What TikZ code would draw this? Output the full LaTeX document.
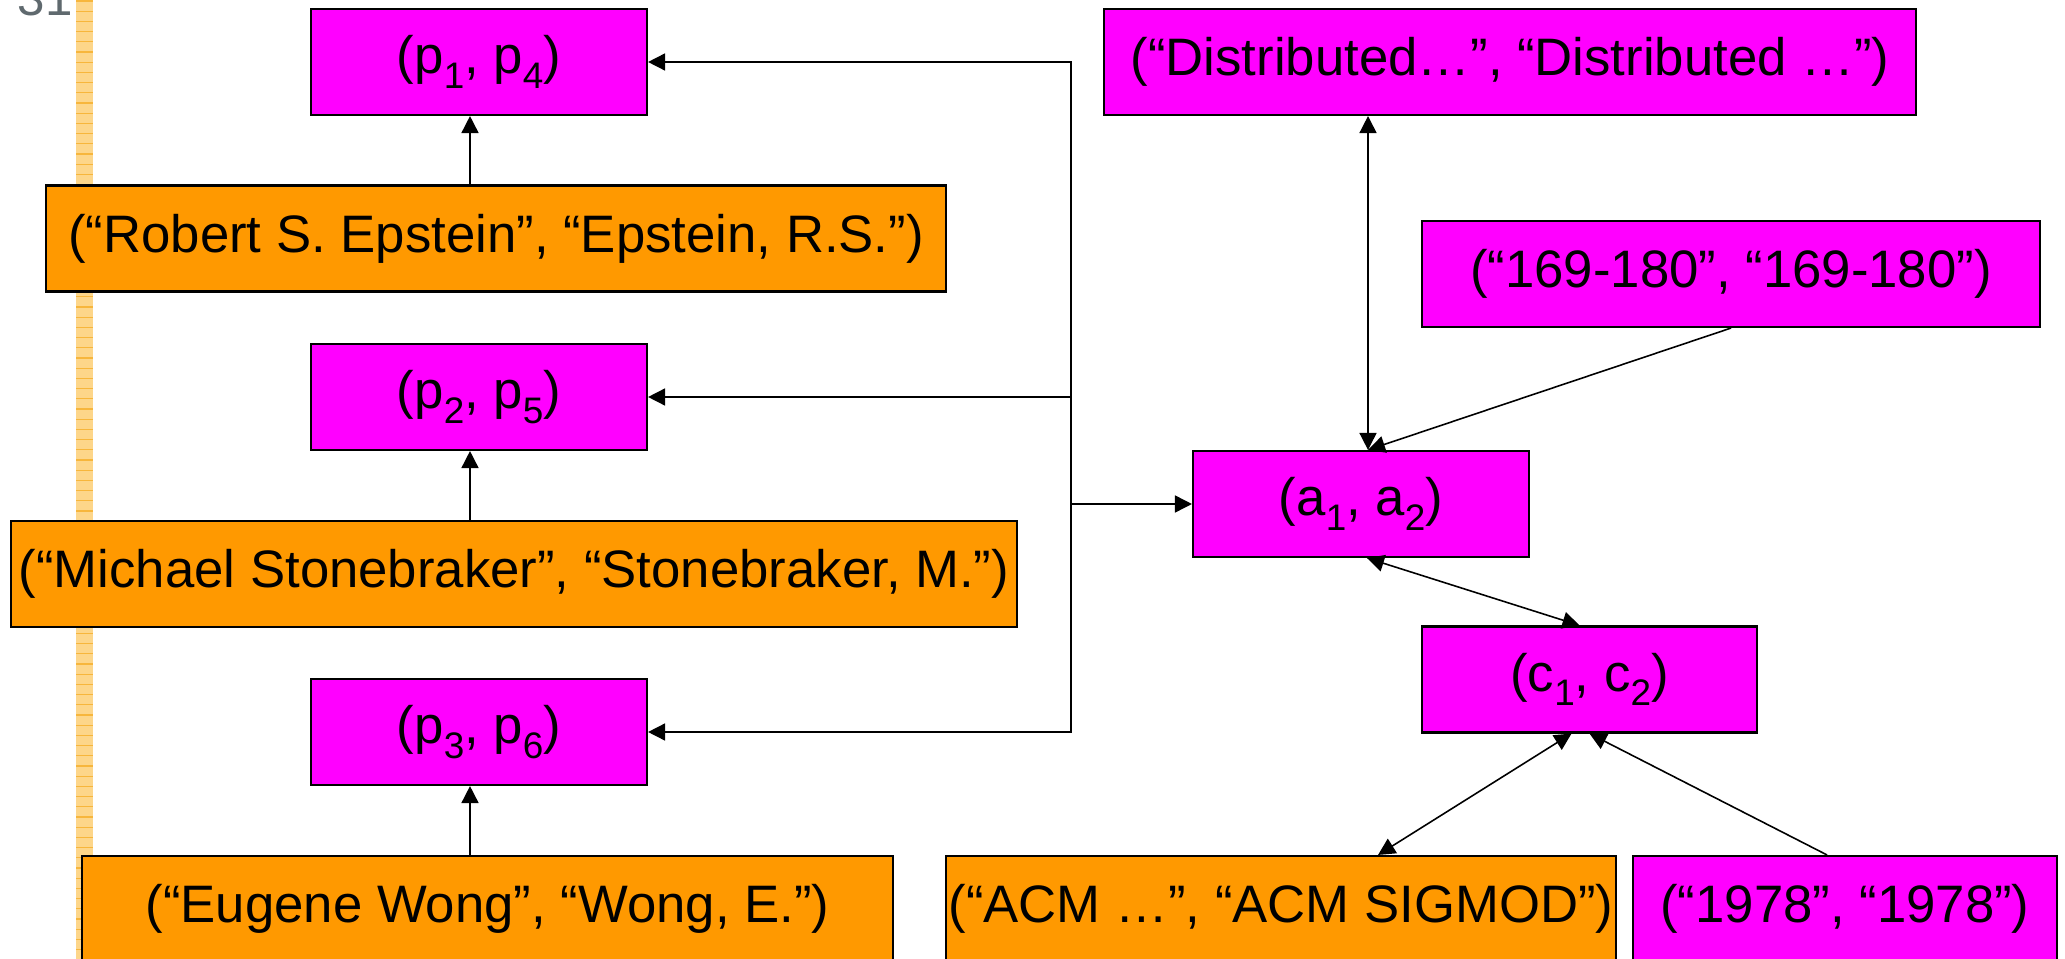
\documentclass[tikz,border=0pt]{standalone}
\usepackage{fontspec}
\setmainfont{Liberation Sans}
\usetikzlibrary{arrows.meta}
\definecolor{boxmagenta}{RGB}{255,0,255}
\definecolor{boxorange}{RGB}{255,153,0}
\definecolor{stripfill}{RGB}{253,214,138}
\definecolor{stripline}{RGB}{247,182,60}
\definecolor{pagegray}{RGB}{95,105,110}
\newcommand{\idx}[1]{\raisebox{-0.28em}{\fontsize{10.5}{12}\selectfont#1}}
\tikzset{
  pair/.style={draw, line width=0.6pt, fill=boxmagenta, minimum height=1.06cm,
    inner sep=0pt, font=\fontsize{15}{18}\selectfont},
  strpair/.style={pair, fill=boxorange},
  link/.style={line width=0.45pt, -{Triangle[length=0.17cm,width=0.17cm]}},
  twoway/.style={line width=0.45pt,
    {Triangle[length=0.17cm,width=0.17cm]}-{Triangle[length=0.17cm,width=0.17cm]}},
}
\begin{document}
\begin{tikzpicture}
   \useasboundingbox (0,0) rectangle (20.65,-9.59);
   \clip (0,0) rectangle (20.65,-9.59);
   \fill[stripfill] (0.76,0) rectangle (0.93,-9.59);
   \foreach \k in {0,...,93}
      \draw[stripline, line width=0.35pt] (0.76,{-0.01-0.102*\k}) -- (0.93,{-0.01-0.102*\k});
   \node[text=pagegray, font=\fontsize{14}{16}\selectfont, anchor=base west, inner sep=0pt]
      (pagenum) at (0.17,-0.16) {31};

   \node[pair, minimum width=3.36cm] (p14) at (4.79,-0.62) {(p\idx{1}, p\idx{4})};
   \node[strpair, minimum width=9.00cm] (robert) at (4.96,-2.385) {(“Robert S. Epstein”, “Epstein, R.S.”)};
   \node[pair, minimum width=3.36cm] (p25) at (4.79,-3.97) {(p\idx{2}, p\idx{5})};
   \node[strpair, minimum width=10.06cm] (michael) at (5.14,-5.74) {(“Michael Stonebraker”, “Stonebraker, M.”)};
   \node[pair, minimum width=3.36cm] (p36) at (4.79,-7.32) {(p\idx{3}, p\idx{6})};
   \node[strpair, minimum width=8.11cm] (eugene) at (4.875,-9.09) {(“Eugene Wong”, “Wong, E.”)};

   \node[pair, minimum width=8.12cm] (dist) at (15.10,-0.62) {(“Distributed…”, “Distributed …”)};
   \node[pair, minimum width=6.18cm] (pages) at (17.31,-2.74) {(“169-180”, “169-180”)};
   \node[pair, minimum width=3.36cm] (a1a2) at (13.61,-5.04) {(a\idx{1}, a\idx{2})};
   \node[pair, minimum width=3.35cm] (c1c2) at (15.895,-6.795) {(c\idx{1}, c\idx{2})};
   \node[strpair, minimum width=6.70cm] (acm) at (12.81,-9.09) {(“ACM …”, “ACM SIGMOD”)};
   \node[pair, minimum width=4.24cm] (year) at (18.45,-9.09) {(“1978”, “1978”)};

   \draw[link] ([xshift=-0.09cm]robert.north -| p14) -- ([xshift=-0.09cm]p14.south);
   \draw[link] ([xshift=-0.09cm]michael.north -| p25) -- ([xshift=-0.09cm]p25.south);
   \draw[link] ([xshift=-0.09cm]eugene.north -| p36) -- ([xshift=-0.09cm]p36.south);

   \coordinate (hub) at (10.71,-5.04);
   \draw[link] (hub) |- (p14);
   \draw[link] (hub) |- (p25);
   \draw[link] (hub) |- (p36);
   \draw[link] (hub) -- (a1a2);

   \coordinate (a1a2top) at ([xshift=0.07cm]a1a2.north);
   \draw[twoway] (a1a2top) -- (a1a2top |- dist.south);
   \draw[link] (pages.south) -- (a1a2top);
   \draw[twoway] ([xshift=0.06cm]a1a2.south) -- ([xshift=-0.1cm]c1c2.north);
   \draw[twoway] ([xshift=-0.18cm]c1c2.south) -- ([xshift=0.97cm]acm.north);
   \draw[link] ([xshift=-0.18cm]year.north) -- (c1c2.south);
\end{tikzpicture}
\end{document}
